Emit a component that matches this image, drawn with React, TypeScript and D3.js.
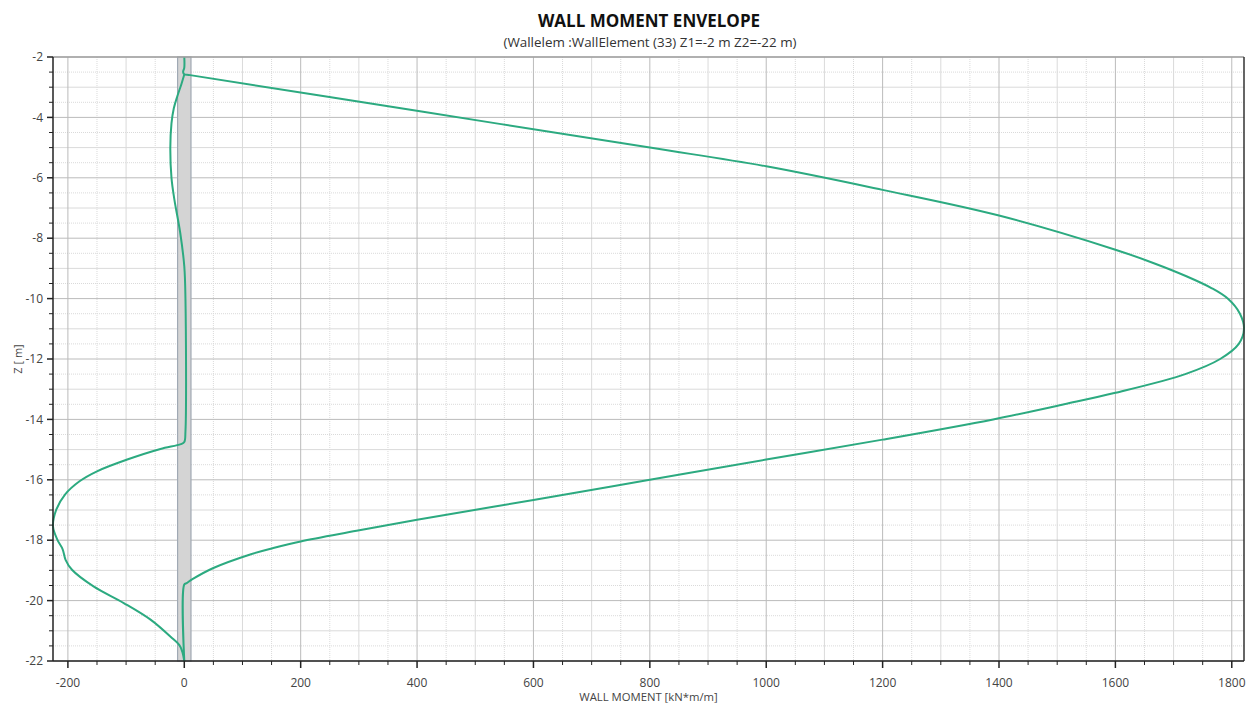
import { useRef, useEffect } from 'react';
import * as d3 from 'd3';

// ---------------------------------------------------------------------------
// Data
// ---------------------------------------------------------------------------

// upper envelope: moment [kN*m/m] vs depth Z [m]
const MAX_MOMENT = [
  0, 0, -2, 0, 10, 405, 800, 1000, 1200, 1400, 1600, 1665, 1722, 1765, 1793, 1814, 1821,
  1812, 1780, 1720, 1600, 1512, 1390, 1200, 1000, 800, 600, 400, 296, 200, 153, 112, 50, 14, 4, 0, 0,
];
const MAX_Z = [
  -2, -2.35, -2.5, -2.57, -2.6, -3.8, -5.0, -5.62, -6.4, -7.25, -8.38, -8.82, -9.26, -9.65, -10, -10.5, -11,
  -11.5, -12, -12.5, -13.12, -13.5, -14, -14.67, -15.33, -16, -16.67, -17.32, -17.69, -18.04, -18.26, -18.48, -18.92, -19.29, -19.42, -19.47, -22,
];

// lower envelope
const MIN_MOMENT = [
  0, -5, -12, -18, -22, -24, -22, -17, -7, 0, 2, 2, 0, -6, -41, -98, -150, -180, -205, -220, -225.6,
  -218, -209, -204, -193, -156, -104, -58, -24, -7, 0,
];
const MIN_Z = [
  -2.58, -2.9, -3.3, -3.7, -4.2, -5.0, -6.0, -6.72, -7.82, -8.93, -10, -14.4, -14.75, -14.82, -14.98, -15.33, -15.72, -16.05, -16.49, -16.99, -17.54,
  -17.99, -18.3, -18.65, -18.98, -19.53, -20.08, -20.63, -21.19, -21.52, -22,
];

// gray band around zero
const BAND = [-11.5, 11.5];

const X_TICKS = [-200, 0, 200, 400, 600, 800, 1000, 1200, 1400, 1600, 1800];
const Y_TICKS = [-2, -4, -6, -8, -10, -12, -14, -16, -18, -20, -22];

const TITLE = 'WALL MOMENT ENVELOPE';
const SUBTITLE = '(Wallelem :WallElement (33) Z1=-2 m Z2=-22 m)';
const X_LABEL = 'WALL MOMENT [kN*m/m]';
const Y_LABEL = 'Z [ m]';

// ---------------------------------------------------------------------------
// Style
// ---------------------------------------------------------------------------

const W = 1247;
const H = 704;
const GREEN = '#2caa80';
const FONT = '"Open Sans", "Noto Sans", sans-serif';
const TEXT = '#444';

type Pt = [number, number];

export default function App() {
  const svgRef = useRef<SVGSVGElement>(null);

  useEffect(() => {
    document.body.style.margin = '0';
    if (!svgRef.current) return;
    const svg = d3.select(svgRef.current);
    svg.selectAll('*').remove();

    const margin = { top: 57, right: 3, bottom: 43, left: 53 };
    const width = W - margin.left - margin.right;
    const height = H - margin.top - margin.bottom;

    const maxPts: Pt[] = MAX_MOMENT.map((m, i) => [m, MAX_Z[i]]);
    const minPts: Pt[] = MIN_MOMENT.map((m, i) => [m, MIN_Z[i]]);
    const xExt = d3.extent([...MAX_MOMENT, ...MIN_MOMENT]) as [number, number];

    const x = d3.scaleLinear().domain(xExt).range([0, width]);
    const y = d3.scaleLinear().domain([-22, -2]).range([height, 0]);

    const g = svg.append('g').attr('transform', `translate(${margin.left},${margin.top})`);

    // minor grid
    const xMinor = d3.range(-200, 1801, 50).filter((v) => v % 200 !== 0);
    const yMinor = d3.range(-21.5, -2, 0.5).filter((v) => v % 2 !== 0);

    g.selectAll('.gx-minor')
      .data(xMinor)
      .join('line')
      .attr('x1', (d: number) => x(d))
      .attr('x2', (d: number) => x(d))
      .attr('y1', 0)
      .attr('y2', height)
      .attr('stroke', '#dadada')
      .attr('stroke-dasharray', (d: number) => (d % 100 === 0 ? 'none' : '1,1'));

    g.selectAll('.gy-minor')
      .data(yMinor)
      .join('line')
      .attr('x1', 0)
      .attr('x2', width)
      .attr('y1', (d: number) => y(d))
      .attr('y2', (d: number) => y(d))
      .attr('stroke', '#dadada')
      .attr('stroke-dasharray', (d: number) => (d % 1 === 0 ? 'none' : '1,1'));

    // major grid
    g.selectAll('.gx-major')
      .data(X_TICKS)
      .join('line')
      .attr('x1', (d: number) => x(d))
      .attr('x2', (d: number) => x(d))
      .attr('y1', 0)
      .attr('y2', height)
      .attr('stroke', '#bbbbbb');

    g.selectAll('.gy-major')
      .data(Y_TICKS)
      .join('line')
      .attr('x1', 0)
      .attr('x2', width)
      .attr('y1', (d: number) => y(d))
      .attr('y2', (d: number) => y(d))
      .attr('stroke', '#bbbbbb');

    // band
    g.append('rect')
      .attr('x', x(BAND[0]))
      .attr('y', 0)
      .attr('width', x(BAND[1]) - x(BAND[0]))
      .attr('height', height)
      .attr('fill', '#d4d4d4')
      .attr('stroke', '#a0a9b4')
      .attr('stroke-width', 1.2);

    // envelopes
    const line = d3
      .line<Pt>()
      .x((d) => x(d[0]))
      .y((d) => y(d[1]))
      .curve(d3.curveCatmullRom.alpha(0.5));

    [maxPts, minPts].forEach((pts) => {
      g.append('path')
        .datum(pts)
        .attr('d', line)
        .attr('fill', 'none')
        .attr('stroke', GREEN)
        .attr('stroke-width', 2)
        .attr('stroke-linejoin', 'round');
    });

    // frame
    g.append('line').attr('x1', 0).attr('x2', width).attr('y1', 0).attr('y2', 0)
      .attr('stroke', '#a0a0a0').attr('stroke-width', 1.5);
    g.append('line').attr('x1', width).attr('x2', width).attr('y1', 0).attr('y2', height)
      .attr('stroke', '#333').attr('stroke-width', 1.5);

    // x axis
    const xAxis = g.append('g').attr('transform', `translate(0,${height})`);
    xAxis.append('line').attr('x1', 0).attr('x2', width).attr('stroke', '#222').attr('stroke-width', 1.5);
    xAxis.selectAll('.xt-minor')
      .data(xMinor)
      .join('line')
      .attr('x1', (d: number) => x(d))
      .attr('x2', (d: number) => x(d))
      .attr('y2', 4)
      .attr('stroke', '#222');
    xAxis.selectAll('.xt')
      .data(X_TICKS)
      .join('line')
      .attr('x1', (d: number) => x(d))
      .attr('x2', (d: number) => x(d))
      .attr('y2', 7)
      .attr('stroke', '#222')
      .attr('stroke-width', 1.5);
    xAxis.selectAll('.xl')
      .data(X_TICKS)
      .join('text')
      .attr('x', (d: number) => x(d))
      .attr('y', 26)
      .attr('text-anchor', 'middle')
      .attr('fill', TEXT)
      .attr('font-size', '12px')
      .attr('font-family', FONT)
      .text((d: number) => String(d));

    // y axis
    const yAxis = g.append('g');
    yAxis.append('line').attr('y1', 0).attr('y2', height).attr('stroke', '#222').attr('stroke-width', 1.5);
    yAxis.selectAll('.yt-minor')
      .data(yMinor)
      .join('line')
      .attr('x1', -4)
      .attr('y1', (d: number) => y(d))
      .attr('y2', (d: number) => y(d))
      .attr('stroke', '#222');
    yAxis.selectAll('.yt')
      .data(Y_TICKS)
      .join('line')
      .attr('x1', -6)
      .attr('y1', (d: number) => y(d))
      .attr('y2', (d: number) => y(d))
      .attr('stroke', '#222')
      .attr('stroke-width', 1.5);
    yAxis.selectAll('.yl')
      .data(Y_TICKS)
      .join('text')
      .attr('x', -10)
      .attr('y', (d: number) => y(d))
      .attr('dy', '0.35em')
      .attr('text-anchor', 'end')
      .attr('fill', TEXT)
      .attr('font-size', '12px')
      .attr('font-family', FONT)
      .text((d: number) => String(d));

    // titles
    svg.append('text')
      .attr('x', 649)
      .attr('y', 27)
      .attr('text-anchor', 'middle')
      .attr('font-size', '17px')
      .attr('font-weight', 'bold')
      .attr('font-family', FONT)
      .attr('fill', '#111')
      .text(TITLE);

    svg.append('text')
      .attr('x', 650)
      .attr('y', 47)
      .attr('text-anchor', 'middle')
      .attr('font-size', '13.4px')
      .attr('font-family', FONT)
      .attr('fill', '#333')
      .text(SUBTITLE);

    svg.append('text')
      .attr('x', margin.left + width / 2)
      .attr('y', 701)
      .attr('text-anchor', 'middle')
      .attr('font-size', '11.3px')
      .attr('font-family', FONT)
      .attr('fill', TEXT)
      .text(X_LABEL);

    svg.append('text')
      .attr('transform', `translate(22,${margin.top + height / 2}) rotate(-90)`)
      .attr('text-anchor', 'middle')
      .attr('font-size', '11px')
      .attr('font-family', FONT)
      .attr('fill', TEXT)
      .text(Y_LABEL);
  }, []);

  return (
    <div style={{ position: 'fixed', left: 0, top: 0, width: W, height: H, background: '#fff' }}>
      <svg ref={svgRef} width={W} height={H} />
    </div>
  );
}
